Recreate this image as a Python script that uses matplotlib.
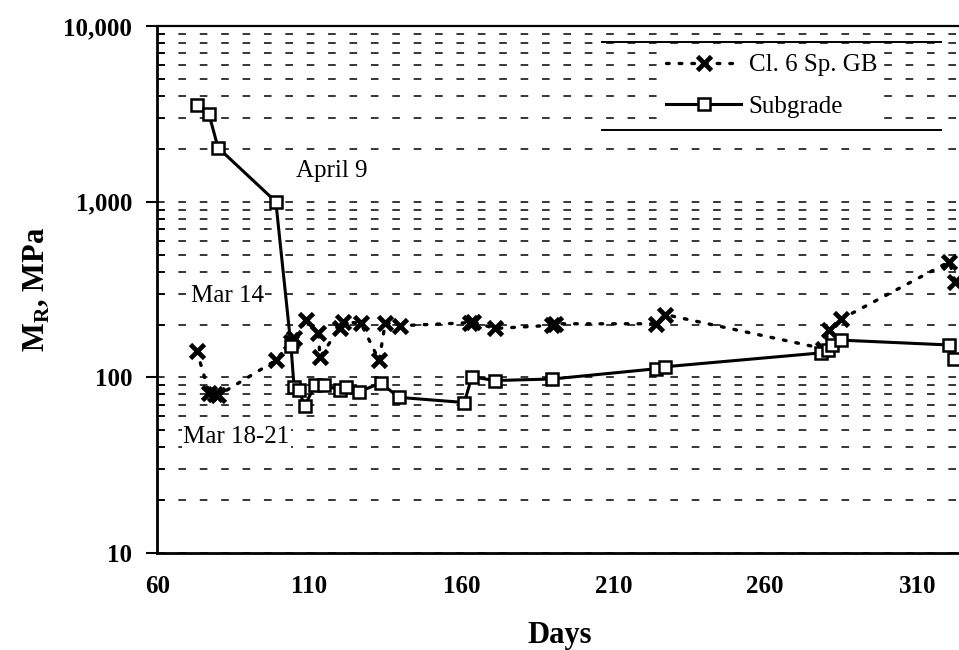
import matplotlib
matplotlib.use("Agg")
import matplotlib.pyplot as plt
from matplotlib.ticker import FixedLocator, FixedFormatter, LogLocator, NullFormatter

plt.rcParams['font.family'] = ['Liberation Serif', 'DejaVu Serif']

# subgrade (squares, solid line)
sub_days = [73, 77, 80, 99, 104, 105, 106.5, 108.5, 112, 115, 120, 122, 126.5, 133.5,
            139.5, 161, 163.5, 171, 190, 224, 227, 278.5, 280.5, 282, 285, 320.5, 322]
sub_mr = [3560, 3150, 2030, 1000, 150, 88, 85, 69, 91, 90, 85, 88, 83, 93,
          77, 72, 101, 96, 98, 112, 115, 138, 143, 152, 163, 153, 127]

# Cl. 6 Sp. GB (crosses, dotted line)
cl6_days = [73, 77, 79, 80, 99, 104, 105, 109, 113, 113.5, 120, 121, 127, 133, 135,
            140, 163, 164, 171, 190, 191, 224, 227, 279, 281, 285, 320.5, 322.5]
cl6_mr = [142, 82, 80, 79, 125, 160, 168, 211, 180, 130, 192, 208, 203, 125, 205,
          197, 205, 207, 190, 198, 202, 202, 228, 146, 185, 215, 455, 351]

ytick_vals = [10, 100, 1000, 10000]
ytick_labels = ['10', '100', '1,000', '10,000']
xtick_vals = [60, 110, 160, 210, 260, 310]

fig = plt.figure(figsize=(9.59, 6.5), dpi=100)
ax = fig.add_axes([0.164, 0.149, 0.84, 0.811])

ax.plot(cl6_days, cl6_mr, color='black', linestyle=(0, (0.8, 3)), lw=2.4,
        dash_capstyle='round', marker='x', markersize=10, mew=3.4,
        label='Cl. 6 Sp. GB', zorder=3)
ax.plot(sub_days, sub_mr, color='black', linestyle='-', lw=2.2,
        marker='s', markersize=8, mfc='white', mec='black', mew=1.8,
        label='Subgrade', zorder=4)

ax.set_yscale('log')
ax.set_ylim(10, 10000)
ax.set_xlim(60, 325)

ax.yaxis.set_major_locator(FixedLocator(ytick_vals))
ax.yaxis.set_major_formatter(FixedFormatter(ytick_labels))
ax.yaxis.set_minor_locator(LogLocator(base=10, subs=range(2, 10)))
ax.yaxis.set_minor_formatter(NullFormatter())
ax.set_xticks(xtick_vals)

ax.grid(True, which='both', axis='y', color='black', lw=1.1, linestyle=(0, (5, 9)))
ax.grid(False, axis='x')

ax.tick_params(axis='y', which='major', direction='out', length=8, width=1.5,
               labelsize=18, pad=10)
ax.tick_params(axis='y', which='minor', direction='in', length=6, width=1.2)
ax.tick_params(axis='x', which='major', length=0, labelsize=18, pad=16)
for lab in ax.get_xticklabels() + ax.get_yticklabels():
    lab.set_fontweight('bold')

ax.spines['right'].set_visible(False)
ax.spines['left'].set_linewidth(2)
ax.spines['bottom'].set_linewidth(2)
ax.spines['top'].set_linewidth(1.6)

ax.set_xlabel('Days', fontsize=22, fontweight='bold', labelpad=16)
ax.set_ylabel(r'M$_\mathregular{R}$, MPa', fontsize=22, fontweight='bold', labelpad=8)

box = dict(facecolor='white', edgecolor='none', pad=1)
ax.text(105.5, 1500, 'April 9', fontsize=18, va='center', ha='left', bbox=box, zorder=5)
ax.text(71, 290, 'Mar 14', fontsize=18, va='center', ha='left', bbox=box, zorder=5)
ax.text(68.5, 46, 'Mar 18-21', fontsize=18, va='center', ha='left', bbox=box, zorder=5)

leg = ax.legend(loc='center', bbox_to_anchor=(0.552, 0.803, 0.421, 0.167),
                frameon=True, fancybox=False, fontsize=18,
                handlelength=3.0, handletextpad=0.3, borderaxespad=0,
                borderpad=0.2, labelspacing=0.75)
leg.get_frame().set_edgecolor('none')
leg.get_frame().set_facecolor('white')
leg.get_frame().set_alpha(1)
leg.set_zorder(5)
for y in (0.97, 0.803):
    ax.plot([0.552, 0.973], [y, y], transform=ax.transAxes, color='black',
            lw=1.4, zorder=6, clip_on=False)

fig.savefig('out.png', dpi=100)
